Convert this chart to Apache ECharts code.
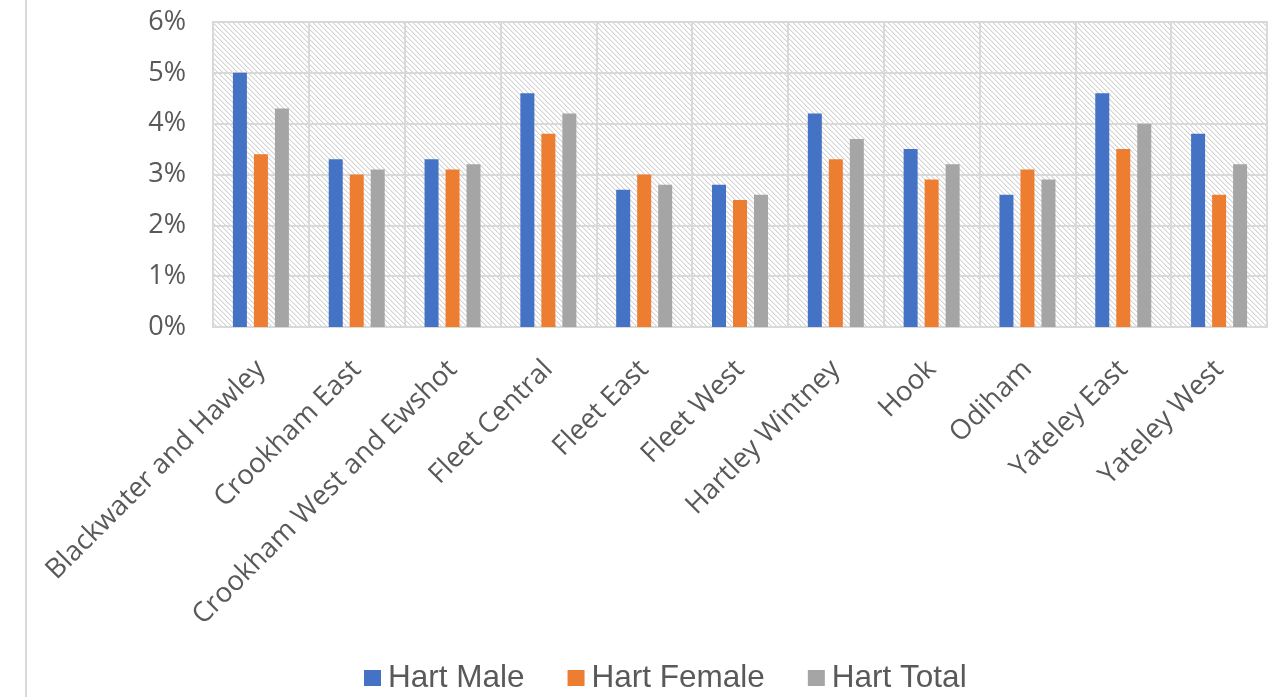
<!DOCTYPE html>
<html>
<head>
<meta charset="utf-8">
<script src="https://cdn.jsdelivr.net/npm/echarts@6/dist/echarts.min.js"></script>
<style>
html,body{margin:0;padding:0;background:#fff;}
#chart{width:1272px;height:697px;}
</style>
</head>
<body>
<div id="chart"></div>
<script>
const categories = ["Blackwater and Hawley","Crookham East","Crookham West and Ewshot","Fleet Central","Fleet East","Fleet West","Hartley Wintney","Hook","Odiham","Yateley East","Yateley West"];
const hartMale   = [5.0, 3.3, 3.3, 4.6, 2.7, 2.8, 4.2, 3.5, 2.6, 4.6, 3.8];
const hartFemale = [3.4, 3.0, 3.1, 3.8, 3.0, 2.5, 3.3, 2.9, 3.1, 3.5, 2.6];
const hartTotal  = [4.3, 3.1, 3.2, 4.2, 2.8, 2.6, 3.7, 3.2, 2.9, 4.0, 3.2];
const seriesNames = ["Hart Male","Hart Female","Hart Total"];

// hatch pattern
const tile = document.createElement('canvas');
const P = 5;
tile.width = P*4; tile.height = P*4;
const tctx = tile.getContext('2d');
const img = tctx.createImageData(tile.width, tile.height);
for (let y = 0; y < tile.height; y++) {
  for (let x = 0; x < tile.width; x++) {
    const i = (y*tile.width + x)*4;
    const d = ((x - y) % P + P) % P;
    let v = 255;
    if (d === 0) v = 212; else if (d === 1) v = 236;
    img.data[i]=v; img.data[i+1]=v; img.data[i+2]=v; img.data[i+3]=255;
  }
}
tctx.putImageData(img,0,0);

const chart = echarts.init(document.getElementById('chart'));
const textColor = '#595959';
chart.setOption({
  animation: false,
  grid: {
    left: 213, right: 5, top: 22, bottom: 370,
    show: true,
    backgroundColor: {image: tile, repeat: 'repeat'},
    borderColor: '#d9d9d9', borderWidth: 2
  },
  graphic: [{
    type: 'line', shape: {x1: 26, y1: 0, x2: 26, y2: 697},
    style: {stroke: '#d9d9d9', lineWidth: 2}
  }],
  legend: {
    data: seriesNames,
    left: 364, top: 662, padding: 0,
    itemWidth: 17, itemHeight: 16, itemGap: 43,
    icon: 'rect',
    textStyle: {color: textColor, fontSize: 31.5, fontFamily: 'Liberation Sans', padding: [0, 0, 0, 2]}
  },
  xAxis: {
    type: 'category',
    data: categories,
    axisLine: {show: true, lineStyle: {color: '#d9d9d9', width: 2}},
    axisTick: {show: false},
    splitLine: {show: true, interval: 0, lineStyle: {color: '#d9d9d9', width: 2}},
    axisLabel: {interval: 0, rotate: 45, margin: 38, color: textColor, fontSize: 27.5, fontFamily: 'Open Sans'}
  },
  yAxis: {
    type: 'value', min: 0, max: 6, interval: 1,
    axisLine: {show: false}, axisTick: {show: false},
    splitLine: {show: true, lineStyle: {color: '#d9d9d9', width: 2}},
    axisLabel: {formatter: '{value}%', margin: 27, color: textColor, fontSize: 27, fontFamily: 'Open Sans'}
  },
  series: [
    {name: seriesNames[0], type: 'bar', data: hartMale, barWidth: 14, barGap: '50%', itemStyle: {color: '#4472C4'}},
    {name: seriesNames[1], type: 'bar', data: hartFemale, barWidth: 14, barGap: '50%', itemStyle: {color: '#ED7D31'}},
    {name: seriesNames[2], type: 'bar', data: hartTotal, barWidth: 14, barGap: '50%', itemStyle: {color: '#A5A5A5'}}
  ]
});
</script>
</body>
</html>
